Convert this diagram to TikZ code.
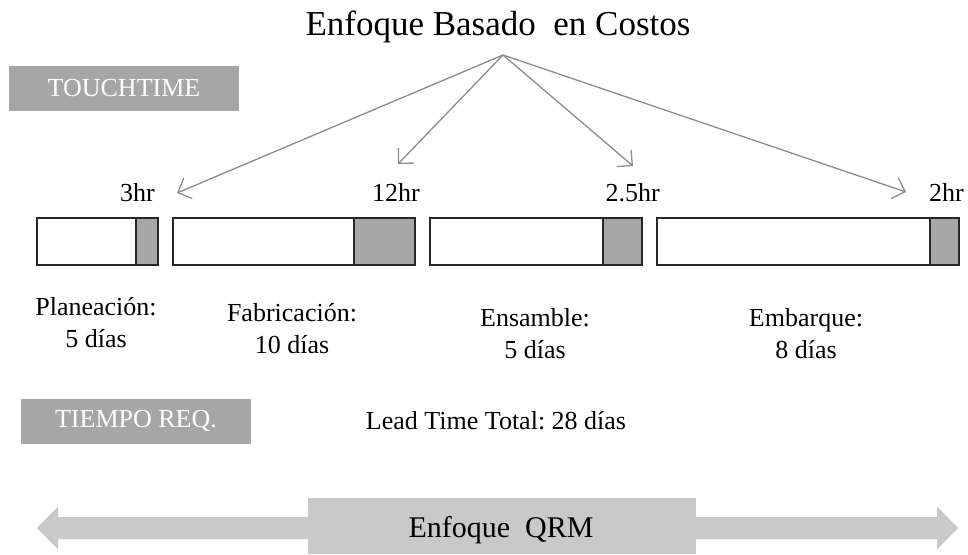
\documentclass[tikz,border=0pt]{standalone}
\usepackage{fontspec}
\setmainfont{Liberation Serif}
\usepackage{tikz}
\usetikzlibrary{arrows.meta,positioning}
\frenchspacing

\definecolor{tagGray}{HTML}{A6A6A6}
\definecolor{qrmGray}{HTML}{C9C9C9}
\definecolor{lineGray}{HTML}{8C8C8C}

\tikzset{
  tag/.style={fill=tagGray,text=white,minimum width=230pt,minimum height=45pt,
    inner sep=0pt,font=\fontsize{26}{30}\selectfont},
  hrlabel/.style={anchor=base east,inner sep=0pt,font=\fontsize{26}{30}\selectfont},
  phase/.style={align=center,inner sep=0pt,font=\fontsize{26}{32}\selectfont},
  costarrow/.style={draw=lineGray,line width=1.3pt,-{Straight Barb[length=11pt,width=22pt]}},
  barwhite/.style={draw=black!85,line width=1.5pt,fill=white},
  bargray/.style={draw=black!85,line width=1.5pt,fill=tagGray},
}

\begin{document}
\begin{tikzpicture}[x=1pt,y=-1pt]
    \useasboundingbox (0,0) rectangle (968,554);
    % titulo y etiquetas
    \node[anchor=base,inner sep=0pt,font=\fontsize{35}{40}\selectfont] (title) at (498,35) {Enfoque Basado\ \ en Costos};
    \node[tag] (touch) at (124,88) {TOUCHTIME};
    \node[tag] (tiempo) at (136,421) {TIEMPO REQ.};
    % horas
    \node[hrlabel] (hPlan) at (155,201) {3hr};
    \node[hrlabel] (hFab) at (420,201) {12hr};
    \node[hrlabel] (hEns) at (660,201) {2.5hr};
    \node[hrlabel] (hEmb) at (964,201) {2hr};
    \coordinate (apex) at (503,55);
    \coordinate (tPlan) at (177,193);
    \coordinate (tFab) at (398,164);
    \coordinate (tEns) at (633,166);
    \coordinate (tEmb) at (906,192);
    \draw[costarrow] (apex) -- (tPlan);
    \draw[costarrow] (apex) -- (tFab);
    \draw[costarrow] (apex) -- (tEns);
    \draw[costarrow] (apex) -- (tEmb);
    % barras
    \draw[barwhite] (37,218) rectangle (136,265);
    \draw[bargray] (136,218) rectangle (158,265);
    \draw[barwhite] (173,218) rectangle (354,265);
    \draw[bargray] (354,218) rectangle (415,265);
    \draw[barwhite] (430,218) rectangle (603,265);
    \draw[bargray] (603,218) rectangle (642,265);
    \draw[barwhite] (657,218) rectangle (930,265);
    \draw[bargray] (930,218) rectangle (959,265);
    % etapas
    \node[phase] (pPlan) at (96,323) {Planeación:\\5 días};
    \node[phase] (pFab) at (292,329) {Fabricación:\\10 días};
    \node[phase] (pEns) at (535,334) {Ensamble:\\5 días};
    \node[phase] (pEmb) at (806,334) {Embarque:\\8 días};
    \node[inner sep=0pt,font=\fontsize{26}{30}\selectfont] (lead) at (496,421) {Lead Time Total: 28 días};
    % flecha QRM
    \coordinate (qrmL) at (37,528);
    \coordinate (qrmR) at (958,528);
    \fill[qrmGray] (qrmL) -- (58,506.5) -- (58,517) -- (937,517) -- (937,506.5) -- (qrmR)
      -- (937,549.5) -- (937,539) -- (58,539) -- (58,549.5) -- cycle;
    \fill[qrmGray] (308,498) rectangle (696,554);
    \node[inner sep=0pt,font=\fontsize{30}{36}\selectfont] (qrm) at (501,530) {Enfoque\ \ QRM};
    %\draw[red] (0,0) rectangle (968,554);
\end{tikzpicture}
\end{document}
